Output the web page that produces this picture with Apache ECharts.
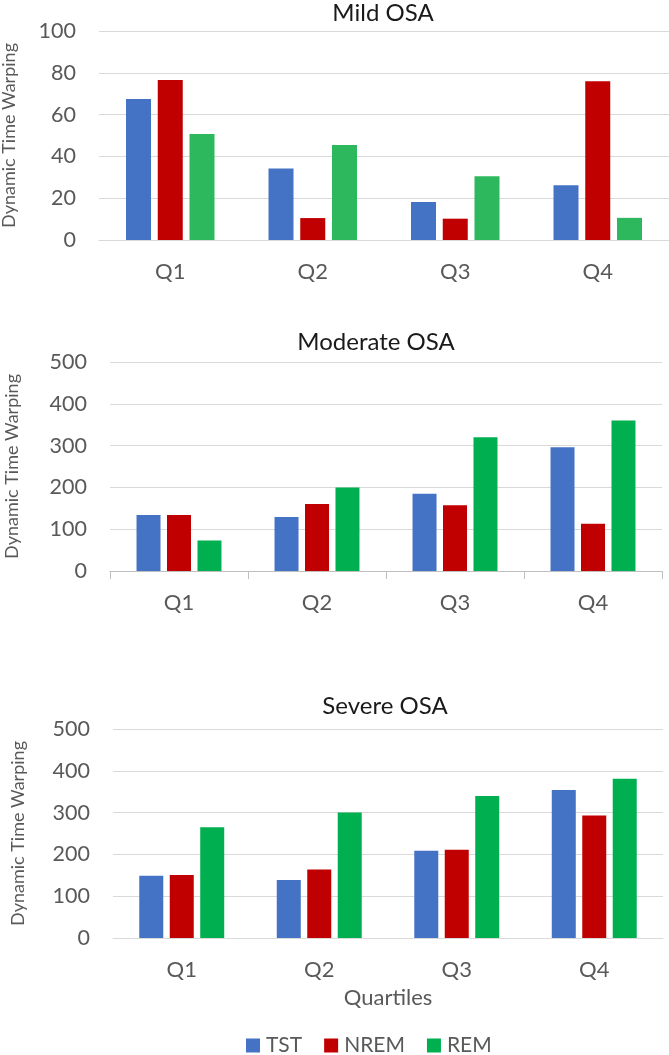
<!DOCTYPE html>
<html>
<head>
<meta charset="utf-8">
<script src="https://cdn.jsdelivr.net/npm/echarts@6/dist/echarts.min.js"></script>
<style>
html,body{margin:0;padding:0;background:#fff;}
#main{width:669px;height:1055px;}
</style>
</head>
<body>
<div id="main"></div>
<script>
const categories = ['Q1', 'Q2', 'Q3', 'Q4'];
const seriesNames = ['TST', 'NREM', 'REM'];
const panelTitles = ['Mild OSA', 'Moderate OSA', 'Severe OSA'];

const mildTST  = [67.5, 34.2, 18.2, 26.2];
const mildNREM = [76.5, 10.5, 10.2, 76.0];
const mildREM  = [50.7, 45.5, 30.5, 10.6];

const moderateTST  = [134, 129, 185, 296];
const moderateNREM = [134, 160, 157, 113];
const moderateREM  = [73, 200, 320, 360];

const severeTST  = [149, 139, 209, 354];
const severeNREM = [151, 164, 211, 293];
const severeREM  = [265, 300, 340, 381];

const yMax = [100, 500, 500];
const yInterval = [20, 100, 100];

const FONT = 'Lato, "Open Sans", "DejaVu Sans", sans-serif';
const BLUE = '#4472C4', RED = '#C00000', GREEN1 = '#2DB85D', GREEN = '#00B050';

const grids = [
  {left: 99, width: 570, top: 31, height: 209, containLabel: false, outerBoundsMode: 'none'},
  {left: 110, width: 552, top: 362, height: 209, containLabel: false, outerBoundsMode: 'none'},
  {left: 113, width: 550, top: 729, height: 209, containLabel: false, outerBoundsMode: 'none'}
];
const nameGaps = [81, 89, 86];
const titleTops = [1, 330, 694];
const titleCenters = [383, 376, 385];
const barWidths = [25, 24, 24];

const panelData = [
  [mildTST, mildNREM, mildREM],
  [moderateTST, moderateNREM, moderateREM],
  [severeTST, severeNREM, severeREM]
];
const panelColors = [
  [BLUE, RED, GREEN1],
  [BLUE, RED, GREEN],
  [BLUE, RED, GREEN]
];

const xAxes = [], yAxes = [], series = [], titles = [];
for (let i = 0; i < 3; i++) {
  titles.push({
    text: panelTitles[i], left: titleCenters[i], top: titleTops[i], textAlign: 'center', padding: 0,
    textStyle: {fontFamily: FONT, fontSize: 24, fontWeight: 'normal', color: '#1a1a1a'}
  });
  xAxes.push({
    type: 'category', gridIndex: i, data: categories,
    axisLine: {show: true, lineStyle: {color: i === 1 ? '#bfbfbf' : '#d9d9d9', width: 1}},
    axisTick: {show: i === 1, length: 8, lineStyle: {color: '#bfbfbf'}},
    axisLabel: {fontFamily: FONT, fontSize: 22, color: '#595959', margin: 21},
    name: i === 2 ? 'Quartiles' : '', nameLocation: 'middle', nameGap: 49,
    nameTextStyle: {fontFamily: FONT, fontSize: 22, color: '#595959'}
  });
  yAxes.push({
    type: 'value', gridIndex: i, min: 0, max: yMax[i], interval: yInterval[i],
    axisLine: {show: false}, axisTick: {show: false},
    axisLabel: {fontFamily: FONT, fontSize: 21.5, color: '#595959', margin: 23},
    splitLine: {lineStyle: {color: '#d9d9d9', width: 1}},
    name: 'Dynamic Time Warping', nameLocation: 'middle', nameGap: nameGaps[i],
    nameTextStyle: {fontFamily: FONT, fontSize: 18, color: '#595959'}
  });
  for (let s = 0; s < 3; s++) {
    series.push({
      type: 'bar', name: seriesNames[s], xAxisIndex: i, yAxisIndex: i,
      data: panelData[i][s], barWidth: barWidths[i], barGap: '27%',
      itemStyle: {color: panelColors[i][s]}, silent: true
    });
  }
}

const chart = echarts.init(document.getElementById('main'), null, {renderer: 'canvas'});
chart.setOption({
  animation: false,
  backgroundColor: '#ffffff',
  title: titles,
  grid: grids,
  xAxis: xAxes,
  yAxis: yAxes,
  legend: {
    left: 246, top: 1035, padding: 0, itemWidth: 14, itemHeight: 14, itemGap: 22,
    icon: 'rect', selectedMode: false,
    textStyle: {fontFamily: FONT, fontSize: 21, color: '#595959', padding: [0, 0, 0, 1]},
    data: [
      {name: 'TST', itemStyle: {color: BLUE}},
      {name: 'NREM', itemStyle: {color: RED}},
      {name: 'REM', itemStyle: {color: GREEN}}
    ]
  },
  series: series
});
</script>
</body>
</html>
